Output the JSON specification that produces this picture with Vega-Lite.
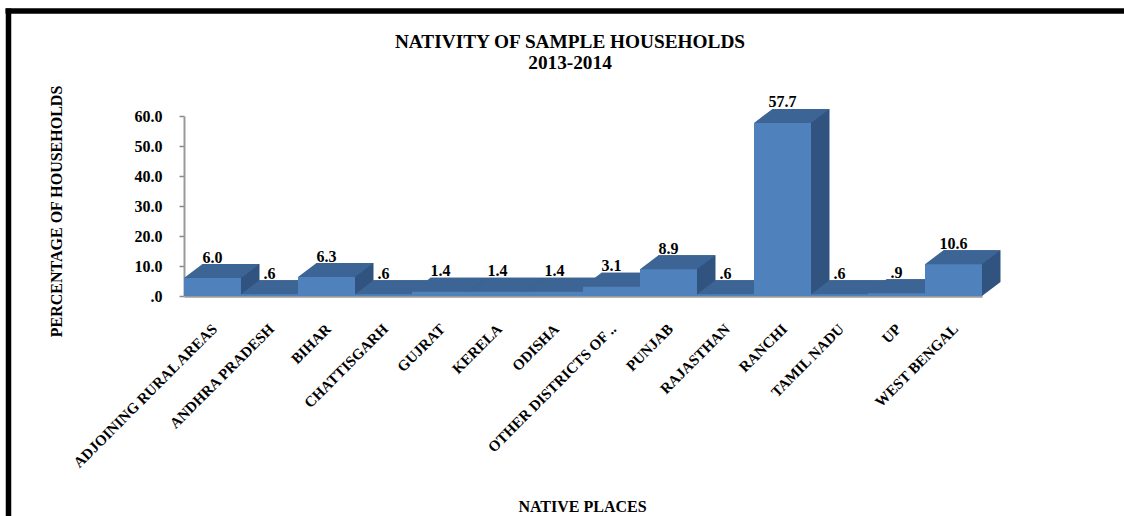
{
  "$schema": "https://vega.github.io/schema/vega-lite/v6.json",
  "width": 798,
  "height": 180,
  "autosize": "none",
  "padding": {"left": 184, "top": 116, "right": 142, "bottom": 220},
  "background": "white",
  "config": {
    "view": {"stroke": null},
    "font": "Liberation Serif"
  },
  "title": {
    "text": ["NATIVITY OF SAMPLE HOUSEHOLDS", "2013-2014"],
    "anchor": "middle",
    "frame": "group",
    "dx": -13,
    "offset": -63,
    "fontSize": 19.3,
    "fontWeight": "bold",
    "font": "Liberation Serif",
    "color": "black",
    "lineHeight": 21
  },
  "resolve": {
    "scale": {"x": "independent", "y": "independent"},
    "axis": {"x": "independent", "y": "independent"}
  },
  "layer": [
    {
      "data": {
        "values": [
          {"place": "ADJOINING RURAL AREAS", "pct": 6.0, "label": "6.0"},
          {"place": "ANDHRA PRADESH", "pct": 0.6, "label": ".6"},
          {"place": "BIHAR", "pct": 6.3, "label": "6.3"},
          {"place": "CHATTISGARH", "pct": 0.6, "label": ".6"},
          {"place": "GUJRAT", "pct": 1.4, "label": "1.4"},
          {"place": "KERELA", "pct": 1.4, "label": "1.4"},
          {"place": "ODISHA", "pct": 1.4, "label": "1.4"},
          {"place": "OTHER DISTRICTS OF ..", "pct": 3.1, "label": "3.1"},
          {"place": "PUNJAB", "pct": 8.9, "label": "8.9"},
          {"place": "RAJASTHAN", "pct": 0.6, "label": ".6"},
          {"place": "RANCHI", "pct": 57.7, "label": "57.7"},
          {"place": "TAMIL NADU", "pct": 0.6, "label": ".6"},
          {"place": "UP", "pct": 0.9, "label": ".9"},
          {"place": "WEST BENGAL", "pct": 10.6, "label": "10.6"}
        ]
      },
      "encoding": {
        "x": {
          "field": "place",
          "type": "nominal",
          "sort": null,
          "scale": {"paddingInner": 0, "paddingOuter": 0},
          "axis": {
            "title": "NATIVE PLACES",
            "titleFont": "Liberation Serif",
            "titleFontSize": 16,
            "titleFontWeight": "bold",
            "titleColor": "black",
            "titleX": 398,
            "titleY": 202,
            "labelFont": "Liberation Serif",
            "labelFontSize": 15,
            "labelFontWeight": "bold",
            "labelColor": "black",
            "labelAngle": -45,
            "labelAlign": "right",
            "labelBaseline": "middle",
            "labelPadding": 30,
            "labelOffset": 2,
            "labelOverlap": false,
            "labelLimit": 0,
            "ticks": false,
            "domainColor": "#9a9a9a",
            "domainWidth": 2.5
          }
        },
        "y": {
          "field": "pct",
          "type": "quantitative",
          "stack": null,
          "scale": {"domain": [0, 60], "nice": false},
          "axis": {
            "title": "PERCENTAGE OF HOUSEHOLDS",
            "titleFont": "Liberation Serif",
            "titleFontSize": 16,
            "titleFontWeight": "bold",
            "titleColor": "black",
            "titleX": -120,
            "titleY": 95,
            "values": [0, 10, 20, 30, 40, 50, 60],
            "labelExpr": "datum.value === 0 ? '.0' : format(datum.value, '.1f')",
            "labelFont": "Liberation Serif",
            "labelFontSize": 16,
            "labelFontWeight": "bold",
            "labelColor": "black",
            "labelPadding": 17,
            "tickColor": "#8a8a8a",
            "tickSize": 5,
            "tickWidth": 1.5,
            "domainColor": "#9a9a9a",
            "domainWidth": 2,
            "grid": false
          }
        }
      },
      "layer": [
        {
          "mark": {"type": "bar", "color": "#30547f", "xOffset": 18.5, "x2Offset": 18.5, "yOffset": -14, "y2Offset": -14},
          "encoding": {"y2": {"datum": 0}}
        },
        {
          "mark": {
            "type": "point",
            "filled": true,
            "opacity": 1,
            "color": "#30547f",
            "size": 3249,
            "shape": "M 1 0 L 1.649 -0.491 L 1 -0.491 Z"
          },
          "encoding": {"y": {"datum": 0}}
        },
        {
          "mark": {
            "type": "point",
            "filled": true,
            "opacity": 1,
            "color": "#3c6595",
            "size": 3249,
            "shape": "M -1 0.03 L 1 0.03 L 1 0 L 1.649 -0.491 L -0.351 -0.491 L -1 0 Z"
          }
        },
        {"mark": {"type": "bar", "color": "#4f81bd"}},
        {
          "mark": {
            "type": "text",
            "baseline": "alphabetic",
            "align": "center",
            "dy": -15.5,
            "font": "Liberation Serif",
            "fontSize": 16,
            "fontWeight": "bold",
            "color": "black"
          },
          "encoding": {"text": {"field": "label"}}
        }
      ]
    },
    {
      "data": {"values": [{"frameX": 0, "frameY": 0}]},
      "mark": {"type": "point", "opacity": 0},
      "encoding": {
        "x": {
          "field": "frameX",
          "type": "quantitative",
          "scale": {"domain": [0, 1], "range": [-179, 940], "nice": false, "zero": false},
          "axis": {
            "orient": "top",
            "offset": 105.5,
            "title": null,
            "labels": false,
            "ticks": false,
            "grid": false,
            "domainColor": "black",
            "domainWidth": 5.5
          }
        },
        "y": {
          "field": "frameY",
          "type": "quantitative",
          "scale": {"domain": [0, 1], "range": [400, -108], "nice": false, "zero": false},
          "axis": {
            "orient": "left",
            "offset": 176,
            "title": null,
            "labels": false,
            "ticks": false,
            "grid": false,
            "domainColor": "black",
            "domainWidth": 5.5
          }
        }
      }
    }
  ]
}
